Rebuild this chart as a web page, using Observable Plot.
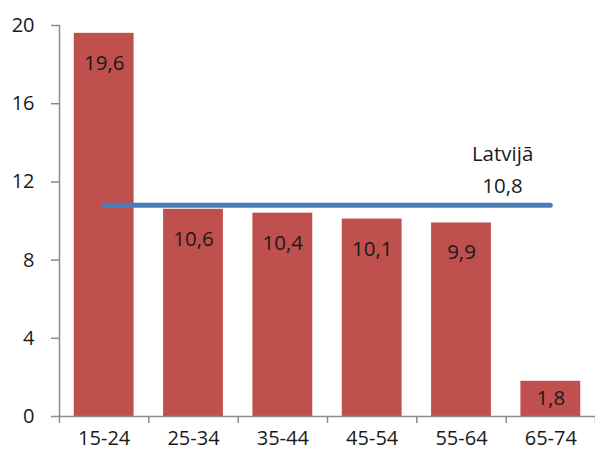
<!DOCTYPE html>
<html>
<head>
<meta charset="utf-8">
<script src="https://cdn.jsdelivr.net/npm/d3@7"></script>
<script src="https://cdn.jsdelivr.net/npm/@observablehq/plot@0.6"></script>
<style>
  body { margin: 0; background: #fff; }
  svg { font-family: "Open Sans", sans-serif; }
</style>
</head>
<body>
<div id="chart"></div>
<script>
const categories = ["15-24", "25-34", "35-44", "45-54", "55-64", "65-74"];
const values = [19.6, 10.6, 10.4, 10.1, 9.9, 1.8];
const averageLabel = "Latvijā";
const averageValue = 10.8;
const yTicks = [0, 4, 8, 12, 16, 20];

const fmt = v => v.toFixed(1).replace(".", ",");
const data = categories.map((c, i) => ({c, i, v: values[i]}));

const chart = Plot.plot({
  width: 595,
  height: 452,
  marginLeft: 59,
  marginRight: 0,
  marginTop: 25,
  marginBottom: 36,
  style: {fontSize: "20px", color: "#1a1a1a", background: "#fff"},
  x: {type: "linear", domain: [0, categories.length]},
  y: {domain: [0, 20]},
  marks: [
    Plot.rectY(data, {x1: d => d.i + 0.165, x2: d => d.i + 0.835, y1: 0, y2: "v", fill: "#C0504D"}),
    Plot.axisY({ticks: yTicks, label: null, tickSize: 8, tickPadding: 17, stroke: "#8c8c8c", strokeWidth: 1.5, fill: "#1a1a1a", fontSize: 20}),
    Plot.ruleX([0], {y1: 0, y2: 20, stroke: "#8c8c8c", strokeWidth: 1.5}),
    Plot.ruleY([0], {x1: 0, x2: categories.length, stroke: "#8c8c8c", strokeWidth: 1.5}),
    Plot.axisX({ticks: d3.range(categories.length + 1), label: null, tickSize: 7, tickFormat: () => "", stroke: "#8c8c8c", strokeWidth: 1.5}),
    Plot.text(data, {x: d => d.i + 0.5, y: 0, text: "c", dy: 22, fontSize: 20, fill: "#1a1a1a"}),
    Plot.ruleY([averageValue], {x1: 0.5, x2: categories.length - 0.5, stroke: "#4A7EBB", strokeWidth: 5, strokeLinecap: "round"}),
    Plot.text(data, {x: d => d.i + 0.5, y: d => Math.max(d.v - 1.53, d.v / 2), text: d => fmt(d.v), fontSize: 20.5, fill: "#1a1a1a"}),
    Plot.text([averageValue], {x: 4.96, y: d => d, text: d => averageLabel + "\n" + fmt(d), dy: -39, lineHeight: 1.58, fontSize: 20.5, fill: "#1a1a1a"})
  ]
});
document.getElementById("chart").append(chart);
</script>
</body>
</html>
